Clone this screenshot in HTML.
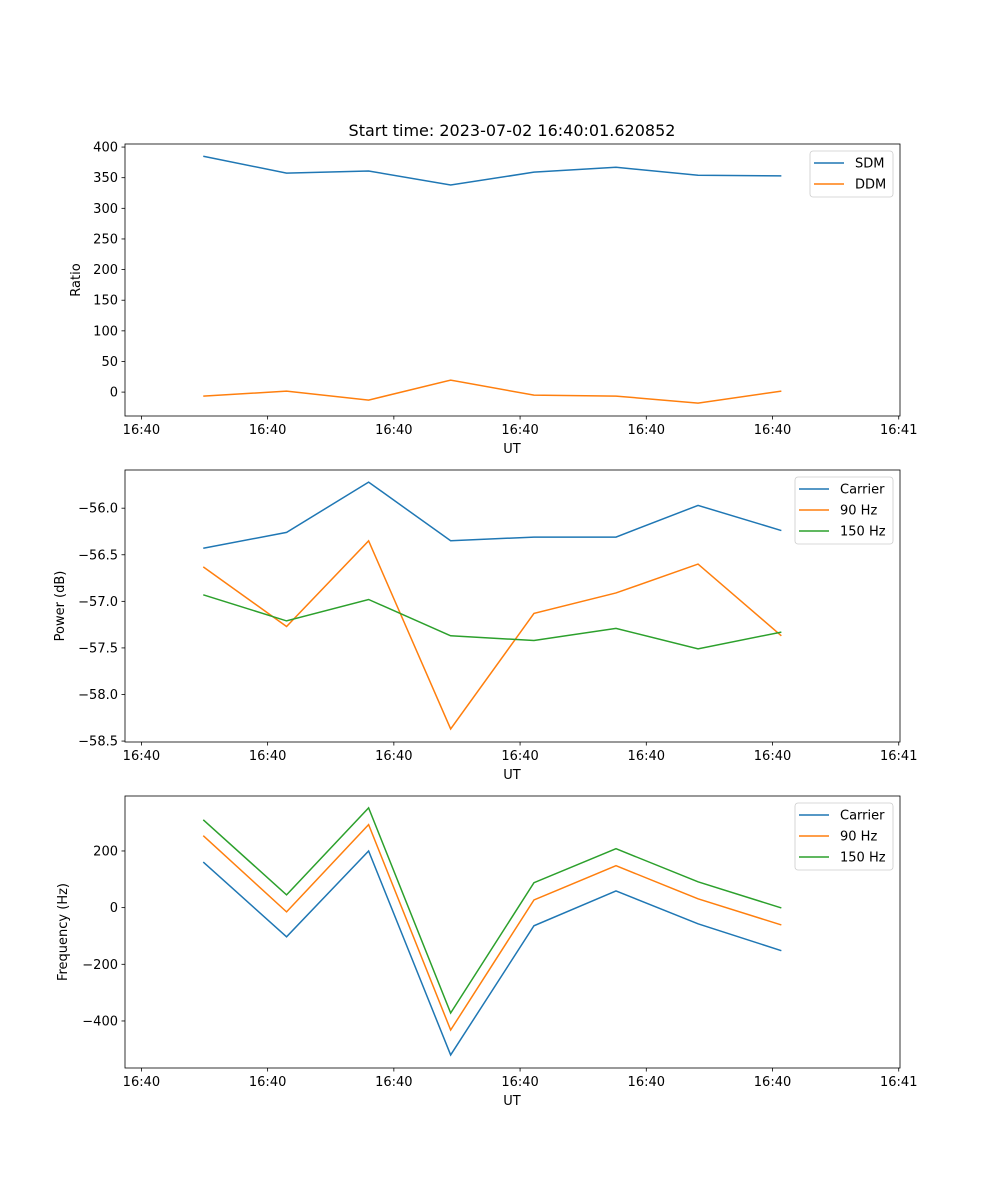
<!DOCTYPE html>
<html><head><meta charset="utf-8"><style>
body{margin:0;background:#fff}
svg{display:block;font-family:"DejaVu Sans","Liberation Sans",sans-serif}
</style></head><body>
<svg id="fig" width="1000" height="1200" viewBox="0 0 1000 1200" xmlns="http://www.w3.org/2000/svg">
<rect width="1000" height="1200" fill="#fff"/>
<text x="512" y="136" font-size="16" text-anchor="middle">Start time: 2023-07-02 16:40:01.620852</text>
</svg>
<script>
// x positions (seconds-ish, relative), ticks
const xValues = [4.9, 11.5, 18.0, 24.5, 31.1, 37.6, 44.1, 50.7];
const xTicks = [0, 10, 20, 30, 40, 50, 60];
const xTickLabels = ["16:40","16:40","16:40","16:40","16:40","16:40","16:41"];
// panel 1
const sdm = [385, 357.5, 361, 338, 359, 367, 354, 353];
const ddm = [-6.5, 1.6, -13, 19.6, -5, -6.5, -18, 1.6];
const ratioTicks = [0, 50, 100, 150, 200, 250, 300, 350, 400];
// panel 2
const powCarrier = [-56.43, -56.26, -55.72, -56.35, -56.31, -56.31, -55.97, -56.24];
const pow90 = [-56.63, -57.27, -56.35, -58.37, -57.13, -56.91, -56.60, -57.37];
const pow150 = [-56.93, -57.21, -56.98, -57.37, -57.42, -57.29, -57.51, -57.33];
const powTicks = [-56.0, -56.5, -57.0, -57.5, -58.0, -58.5];
// panel 3
const freqCarrier = [161, -103, 200, -520, -64, 59, -57, -152];
const freq90 = [254, -15, 293, -432, 27, 148, 31, -61];
const freq150 = [310, 45, 352, -372, 88, 208, 91, -1];
const freqTicks = [-400, -200, 0, 200];

const NS = "http://www.w3.org/2000/svg";
const svg = document.getElementById('fig');
function mk(tag, attrs, parent){const e=document.createElementNS(NS,tag);for(const k in attrs)e.setAttribute(k,attrs[k]);(parent||svg).appendChild(e);return e;}
const L=125,R=900;
const xMin=-1.3,xMax=60.1;
const xs=v=>L+(v-xMin)/(xMax-xMin)*(R-L);
const C=["#1f77b4","#ff7f0e","#2ca02c"];

function panel(name,top,bot,yMin,yMax,ticks,fmt,series,names,ylabel,legend){
  const g=mk('g',{});
  
  
  const ys=v=>bot-(v-yMin)/(yMax-yMin)*(bot-top);
  series.forEach((s,i)=>{
    const p=mk('polyline',{points:s.map((v,j)=>xs(xValues[j])+','+ys(v)).join(' '),fill:'none',stroke:C[i],'stroke-width':1.5},g);
    
    
  });
  const fr=mk('rect',{x:L,y:top,width:R-L,height:bot-top,fill:'none',stroke:'#000','stroke-width':0.8},g);
  
  
  xTicks.forEach((t,i)=>{
    const x=xs(t);
    mk('line',{x1:x,x2:x,y1:bot,y2:bot+3.5,stroke:'#000','stroke-width':0.8},g);
    const tx=mk('text',{x:x,y:bot+18,'font-size':13,'text-anchor':'middle'},g);
    tx.textContent=xTickLabels[i];
    
    
  });
  ticks.forEach(t=>{
    const y=ys(t);
    mk('line',{x1:L,x2:L-3.5,y1:y,y2:y,stroke:'#000','stroke-width':0.8},g);
    const tx=mk('text',{x:L-7,y:y+4.5,'font-size':13,'text-anchor':'end'},g);
    tx.textContent=fmt(t);
    
    
  });
  const xl=mk('text',{x:512,y:bot+37,'font-size':13,'text-anchor':'middle'},g);
  xl.textContent='UT';
  
  
  const ym=(top+bot)/2;
  const yl=mk('text',{x:legend.yl,y:ym,'font-size':13,'text-anchor':'middle',transform:'rotate(-90 '+legend.yl+' '+ym+')'},g);
  yl.textContent=ylabel;
  
  
  const lg=mk('g',{},g);
  
  
  mk('rect',{x:legend.x,y:top+7,width:legend.w,height:names.length*21+4,rx:3,fill:'#fff','fill-opacity':0.8,stroke:'#ccc','stroke-width':0.8},lg);
  names.forEach((n,i)=>{
    const y=top+19+i*21;
    mk('line',{x1:legend.x+4,x2:legend.x+34,y1:y,y2:y,stroke:C[i],'stroke-width':1.5},lg);
    const t=mk('text',{x:legend.x+45,y:y+4.5,'font-size':13},lg);
    t.textContent=n;
    
    
  });
}
const minus=s=>String(s).replace('-','\u2212');
panel('ratio-panel',144,416,-39,405,ratioTicks,t=>minus(t),[sdm,ddm],['SDM','DDM'],'Ratio',{x:810,w:83,yl:80});
panel('power-panel',470,742,-58.51,-55.59,powTicks,t=>minus(t.toFixed(1)),[powCarrier,pow90,pow150],['Carrier','90 Hz','150 Hz'],'Power (dB)',{x:795,w:98,yl:64});
panel('frequency-panel',796,1068,-566,394,freqTicks,t=>minus(t),[freqCarrier,freq90,freq150],['Carrier','90 Hz','150 Hz'],'Frequency (Hz)',{x:795,w:98,yl:67});
</script>
</body></html>
